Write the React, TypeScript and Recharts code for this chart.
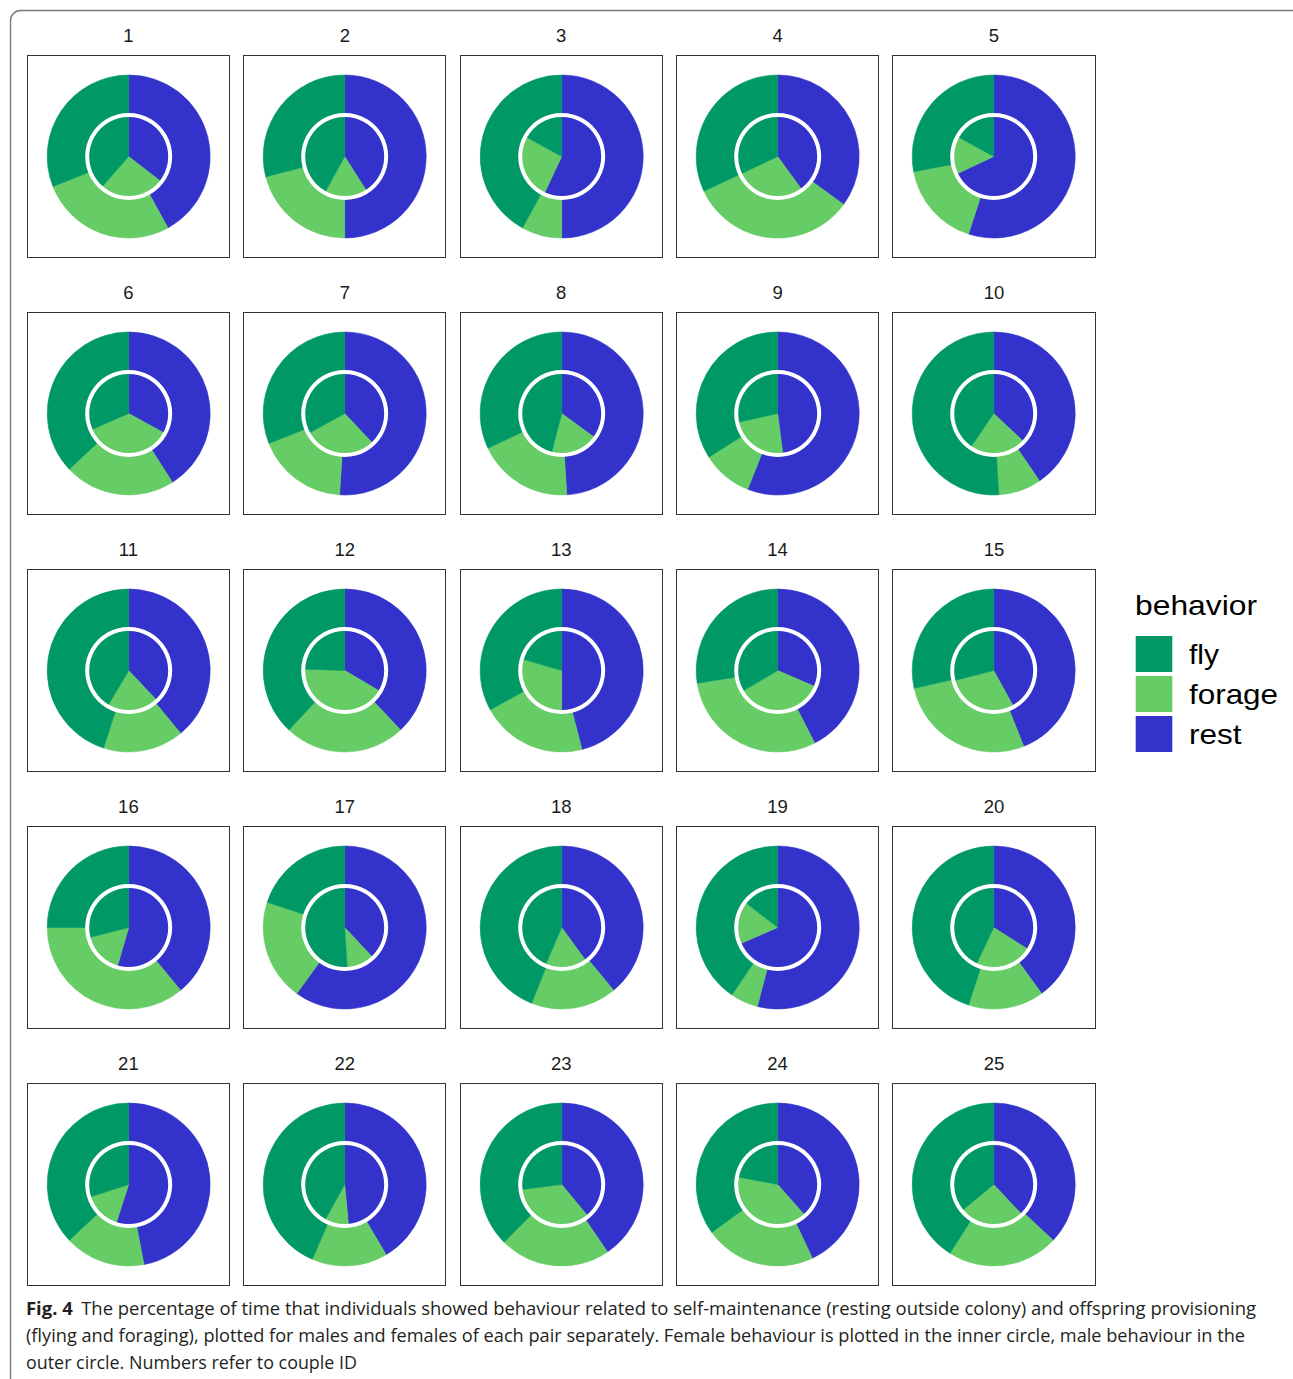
import React from 'react';
import { PieChart, Pie, Cell } from 'recharts';

// ---- data (percent of time) ----
const coupleIds = [1, 2, 3, 4, 5, 6, 7, 8, 9, 10, 11, 12, 13, 14, 15, 16, 17, 18, 19, 20, 21, 22, 23, 24, 25];

// clockwise drawing order starting at 12 o'clock
const behaviorOrder = ['rest', 'forage', 'fly'];
// legend order
const legendKeys = ['fly', 'forage', 'rest'];

// male = outer ring
const maleRest = [42, 50, 50, 35, 55, 41, 51, 49, 56, 40.5, 39, 38, 46, 42.5, 44, 39, 60, 39, 54, 40, 47, 41.5, 40.5, 43, 37];
const maleForage = [27, 21, 8, 33, 17, 22, 18, 19, 10, 8.5, 16, 24, 21, 30, 27.5, 36, 20, 17, 5.5, 15, 16, 15, 22, 22, 22];
const maleFly = [31, 29, 42, 32, 28, 37, 31, 32, 34, 51, 45, 38, 33, 27.5, 28.5, 25, 20, 44, 40.5, 45, 37, 43.5, 37.5, 35, 41];

// female = inner circle
const femaleRest = [35.5, 41, 57, 40, 68, 33, 38, 35, 48, 37, 38, 33.5, 50, 31.5, 42, 54.5, 38, 40, 68.5, 34, 55, 48.5, 39, 38.5, 38];
const femaleForage = [26, 17, 26, 28, 15, 35.5, 29, 19, 23.5, 22.5, 20.5, 42, 29.5, 35, 29, 16.5, 11, 16.5, 17, 23, 15, 9.5, 34, 39.5, 26];
const femaleFly = [38.5, 42, 17, 32, 17, 31.5, 33, 46, 28.5, 40.5, 41.5, 24.5, 20.5, 33.5, 29, 29, 51, 43.5, 14.5, 43, 30, 42, 27, 22, 36];

const captionLines = [
  'The percentage of time that individuals showed behaviour related to self-maintenance (resting outside colony) and offspring provisioning',
  '(flying and foraging), plotted for males and females of each pair separately. Female behaviour is plotted in the inner circle, male behaviour in the',
  'outer circle. Numbers refer to couple ID',
];

// ---- styles ----
const COLORS: Record<string, string> = { fly: '#009966', forage: '#66CC66', rest: '#3333CC' };
const LEGEND_TEXT_W: Record<string, number> = { fly: 30, forage: 89, rest: 52.5 };
const PANEL_W = 203.4;
const PANEL_H = 203;
const LEFT0 = 26.7;
const TOP0 = 55;
const COL_STEP = 216.4;
const ROW_STEP = 257;
const R_OUT = 81.5;
const R_MID = 41.5;

function series(i: number, rest: number[], forage: number[], fly: number[]) {
  const vals: Record<string, number> = { rest: rest[i], forage: forage[i], fly: fly[i] };
  return behaviorOrder.map((b) => ({ behavior: b, value: vals[b] }));
}

const ringData = [{ name: 'ring', value: 1 }];

function Panel({ idx }: { idx: number }) {
  const col = idx % 5;
  const row = Math.floor(idx / 5);
  const left = LEFT0 + col * COL_STEP;
  const top = TOP0 + row * ROW_STEP;
  const male = series(idx, maleRest, maleForage, maleFly);
  const female = series(idx, femaleRest, femaleForage, femaleFly);
  return (
    <div style={{ position: 'absolute', left, top, width: PANEL_W, height: PANEL_H }}>
      <PieChart width={PANEL_W} height={PANEL_H} margin={{ top: 0, right: 0, bottom: 0, left: 0 }}>
        <Pie
          data={male}
          dataKey="value"
          nameKey="behavior"
          cx="50%"
          cy="50%"
          innerRadius={R_MID}
          outerRadius={R_OUT}
          startAngle={90}
          endAngle={-270}
          isAnimationActive={false}
        >
          {male.map((d) => (
            <Cell key={d.behavior} fill={COLORS[d.behavior]} stroke={COLORS[d.behavior]} strokeWidth={0.6} />
          ))}
        </Pie>
        <Pie
          data={female}
          dataKey="value"
          nameKey="behavior"
          cx="50%"
          cy="50%"
          innerRadius={0}
          outerRadius={R_MID}
          startAngle={90}
          endAngle={-270}
          isAnimationActive={false}
        >
          {female.map((d) => (
            <Cell key={d.behavior} fill={COLORS[d.behavior]} stroke={COLORS[d.behavior]} strokeWidth={0.6} />
          ))}
        </Pie>
        <Pie
          data={ringData}
          dataKey="value"
          cx="50%"
          cy="50%"
          innerRadius={39.5}
          outerRadius={43.5}
          startAngle={90}
          endAngle={-270}
          fill="#ffffff"
          stroke="none"
          isAnimationActive={false}
        />
      </PieChart>
      <div
        style={{
          position: 'absolute',
          left: 0,
          top: 0,
          width: PANEL_W,
          height: PANEL_H,
          boxSizing: 'border-box',
          border: '1.3px solid #333333',
          pointerEvents: 'none',
        }}
      />
    </div>
  );
}

export default function App() {
  const font = '"Liberation Sans", Arial, sans-serif';
  return (
    <div style={{ position: 'absolute', left: 0, top: 0, width: 1293, height: 1379, background: '#fff', overflow: 'hidden' }}>
      <svg width={1293} height={1379} style={{ position: 'absolute', left: 0, top: 0 }}>
        <rect x={10.5} y={10.5} width={1292} height={1390} rx={10} ry={10} fill="none" stroke="#7a7a7a" strokeWidth={1.4} />
        {coupleIds.map((id, i) => {
          const col = i % 5;
          const row = Math.floor(i / 5);
          return (
            <text
              key={id}
              x={LEFT0 + col * COL_STEP + PANEL_W / 2}
              y={TOP0 + row * ROW_STEP - 13.3}
              textAnchor="middle"
              fontFamily={font}
              fontSize={18.5}
              fill="#1a1a1a"
            >
              {id}
            </text>
          );
        })}
        <text x={1135} y={615} fontFamily={font} fontSize={28.5} fill="#000" textLength={122} lengthAdjust="spacingAndGlyphs">
          behavior
        </text>
        {legendKeys.map((k, i) => (
          <g key={k}>
            <rect x={1135.7} y={636 + i * 40} width={36.6} height={36} fill={COLORS[k]} />
            <text
              x={1189}
              y={664 + i * 40}
              fontFamily={font}
              fontSize={28.5}
              fill="#000"
              textLength={LEGEND_TEXT_W[k]}
              lengthAdjust="spacingAndGlyphs"
            >
              {k}
            </text>
          </g>
        ))}
        <g fontFamily='"Open Sans", "Noto Sans", sans-serif' fontSize={17.5} fill="#231f20">
          <text x={26} y={1315} textLength={1230} lengthAdjust="spacingAndGlyphs">
            <tspan fontWeight="bold">Fig. 4</tspan>
            <tspan dx={8}>{captionLines[0]}</tspan>
          </text>
          <text x={26} y={1342} textLength={1219} lengthAdjust="spacingAndGlyphs">
            {captionLines[1]}
          </text>
          <text x={26} y={1368.5} textLength={331} lengthAdjust="spacingAndGlyphs">
            {captionLines[2]}
          </text>
        </g>
      </svg>
      {coupleIds.map((id, i) => (
        <Panel key={id} idx={i} />
      ))}
    </div>
  );
}
